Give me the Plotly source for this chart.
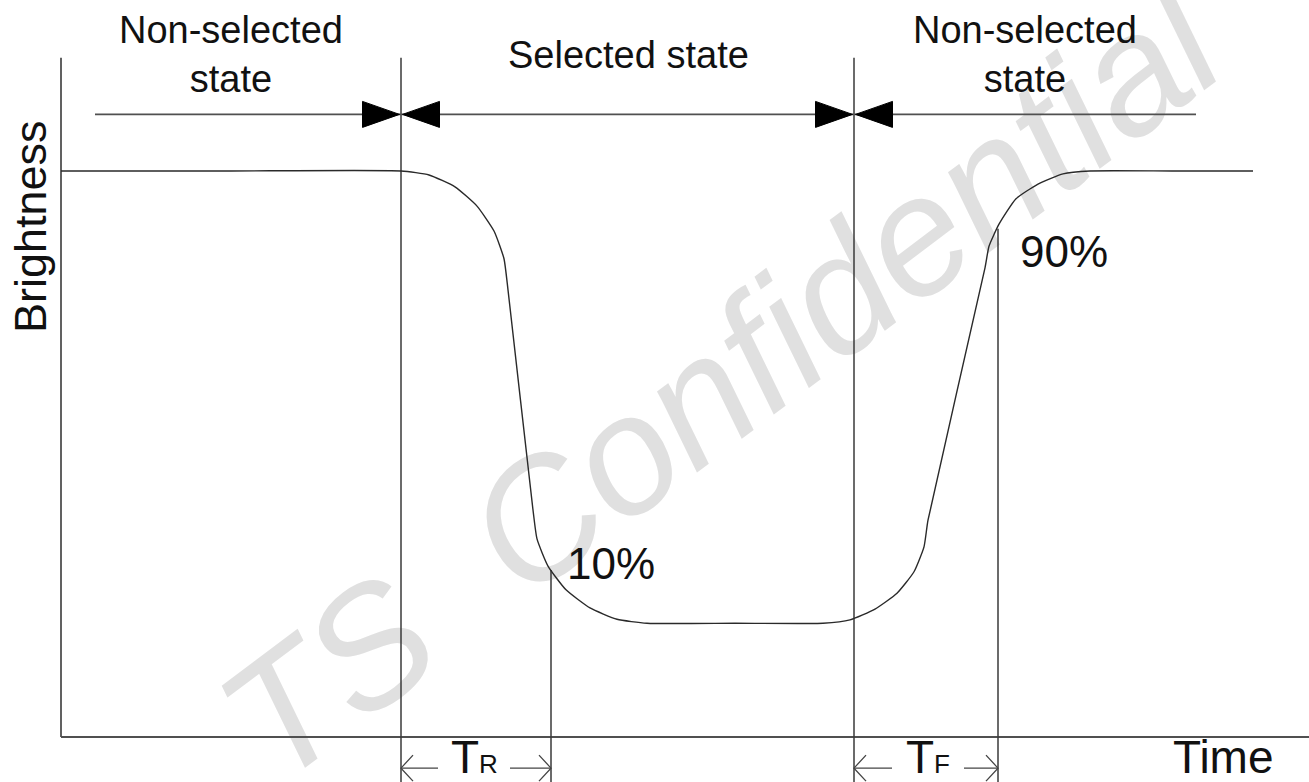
import plotly.graph_objects as go

# ---------------- data (time: arbitrary units, brightness: %) ----------------
time = [0, 17.0, 34.0, 36.8, 39.4, 41.6, 43.3, 44.3, 44.7, 47.2, 47.6, 48.7, 50.5,
        52.9, 55.6, 58.6, 67.4, 76.2, 78.9, 81.4, 83.6, 85.3, 86.3, 86.7, 92.4,
        92.8, 93.8, 95.5, 97.7, 100.2, 102.9, 111.1, 119.2]
brightness = [100, 100, 100, 99.3, 97.2, 93.8, 89.4, 84.5, 79.0, 40.1, 35.0, 30.2, 26.0,
              22.8, 20.8, 20.1, 20.1, 20.1, 20.7, 22.6, 25.4, 29.2, 33.6, 38.3, 82.9,
              86.7, 90.6, 95.1, 97.7, 99.5, 100, 100, 100]

state_bounds = [34.0, 79.3]          # selected state start / end
state_labels = ["Non-selected<br>state", "Selected state", "Non-selected<br>state"]
state_label_t = [17.0, 56.7, 96.4]
state_arrow_span = [3.4, 113.5]

level_marks_t = [49.0, 93.7]          # 10 % and 90 % crossing times
level_marks_b = [29.5, 89.8]
level_labels = ["10%", "90%"]
level_label_t = [50.4, 95.7]
level_label_b = [30.6, 85.7]

resp_labels = ["T<span style='font-size:26px'>R</span>", "T<span style='font-size:26px'>F</span>"]
resp_spans = [(34.0, 49.0), (79.3, 93.7)]
resp_label_t = [41.3, 86.7]

# ---------------- geometry / style ----------------
W, H = 1309, 782
X0_PX, Y0_PX = 61, 737
PX_T, PX_B = 10.0, 5.66
xr = [-X0_PX / PX_T, (W - X0_PX) / PX_T]
yr = [(Y0_PX - H) / PX_B, Y0_PX / PX_B]
T_TOP = 120.0        # top of axis / bracket lines
B_BOT = yr[0] - 1    # bracket lines run off the bottom
ARROW_B = 110.0
DIM_B = -5.5
LINE = "#3a3a3a"
FONT = "Liberation Sans, Arial, sans-serif"

fig = go.Figure()

def seg_trace(xs, ys, width=1.5, color=LINE):
    fig.add_trace(go.Scatter(x=xs, y=ys, mode="lines", hoverinfo="skip",
                             line=dict(color=color, width=width)))

# axes
seg_trace([0, 0, None, 0, xr[1]], [T_TOP, 0, None, 0, 0], width=1.8, color="#505050")

# bracket lines
xs, ys = [], []
for t in state_bounds:
    xs += [t, t, None]; ys += [T_TOP, B_BOT, None]
for t, b in zip(level_marks_t, level_marks_b):
    xs += [t, t, None]; ys += [b, B_BOT, None]
seg_trace(xs, ys, width=1.5)

# state arrow shaft
seg_trace(state_arrow_span, [ARROW_B, ARROW_B], width=1.8, color="#505050")

# filled arrowheads
AL, AW = 3.7, 13 / PX_B
hx, hy = [], []
for t in state_bounds:
    for d in (-1, 1):
        tip = t + d * 0.15
        hx += [tip, tip + d * AL, tip + d * AL, tip, None]
        hy += [ARROW_B, ARROW_B + AW, ARROW_B - AW, ARROW_B, None]
fig.add_trace(go.Scatter(x=hx, y=hy, mode="lines", fill="toself", fillcolor="#000000",
                         line=dict(color="#000000", width=1), hoverinfo="skip"))

# dimension arrows (open heads)
OL, OW, GAP = 1.2, 13 / PX_B, 3.6
dx, dy = [], []
for (a, b), c in zip(resp_spans, resp_label_t):
    dx += [a, c - GAP, None, c + GAP, b, None]
    dy += [DIM_B, DIM_B, None, DIM_B, DIM_B, None]
    dx += [a + OL, a, a + OL, None, b - OL, b, b - OL, None]
    dy += [DIM_B + OW, DIM_B, DIM_B - OW, None, DIM_B + OW, DIM_B, DIM_B - OW, None]
seg_trace(dx, dy, width=1.3, color="#444444")

# waveform
fig.add_trace(go.Scatter(x=time, y=brightness, mode="lines", hoverinfo="skip",
                         line=dict(color="#2a2a2a", width=1.4, shape="spline", smoothing=0.5)))

# ---------------- text ----------------
def note(text, x, y, size, **kw):
    fig.add_annotation(text=text, x=x, y=y, xref="x", yref="y", showarrow=False,
                       font=dict(family=FONT, size=size, color="#111111"), **kw)

for lab, t in zip(state_labels, state_label_t):
    note(lab, t, 120.5, 38)
for lab, t, b in zip(level_labels, level_label_t, level_label_b):
    note(lab, t, b, 44, xanchor="left")
for lab, t in zip(resp_labels, resp_label_t):
    note(lab, t, DIM_B + 2.0, 46)
note("Time", 116.2, DIM_B + 2.0, 46)
note("Brightness", -3.1, 90.1, 45, textangle=-90)

# watermark below everything
WX, WY = 710 / W, 1 - 370 / H
fig.add_shape(type="rect", xref="paper", yref="paper",
              x0=WX - 0.01, x1=WX + 0.01, y0=WY - 0.01, y1=WY + 0.01,
              line=dict(width=0), fillcolor="rgba(0,0,0,0)", layer="below",
              label=dict(text="TS\u00a0\u00a0Confidential", textangle=-37, textposition="middle center",
                         font=dict(family=FONT, size=168, color="#e0e0e0", style="italic")))

fig.update_layout(
    width=W, height=H, margin=dict(l=0, r=0, t=0, b=0),
    paper_bgcolor="white", plot_bgcolor="white", showlegend=False,
    xaxis=dict(range=xr, visible=False, domain=[0, 1]),
    yaxis=dict(range=yr, visible=False, domain=[0, 1]),
)

fig.write_html("out.html", config={"displayModeBar": False},
               post_script="document.body.style.margin='0';document.body.style.overflow='hidden';")
